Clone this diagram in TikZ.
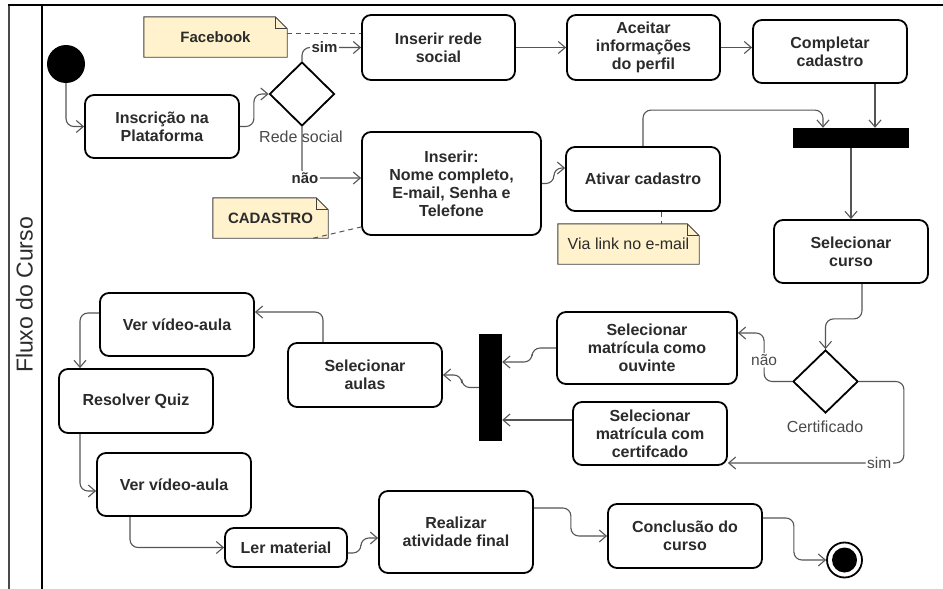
\documentclass[tikz,border=0pt]{standalone}
\usepackage{fontspec}
\setmainfont{Liberation Sans}
\usetikzlibrary{arrows.meta,shapes.geometric,backgrounds}
\definecolor{ink}{HTML}{2B2B2B}
\definecolor{wire}{HTML}{555555}
\definecolor{soft}{HTML}{4A4A4A}
\definecolor{notefill}{HTML}{FFF2CC}
\definecolor{noteline}{HTML}{404040}
\begin{document}
\begin{tikzpicture}[x=1pt,y=-1pt,
  sz/.style 2 args={minimum width=#1pt, minimum height=#2pt},
  act/.style={draw=black, line width=1.8pt, rounded corners=9pt, fill=white,
    inner sep=2pt, align=center, text=ink,
    font=\bfseries\fontsize{16}{18}\selectfont},
  bar/.style={fill=black, draw=none, inner sep=0pt},
  choice/.style={diamond, draw=black, line width=1.8pt, fill=white, inner sep=0pt},
  notetext/.style={inner sep=0pt, text=ink, font=\bfseries\fontsize{15}{18}\selectfont},
  notebody/.style={draw=noteline, fill=notefill, line width=0.9pt},
  flow/.style={draw=wire, line width=1.1pt, rounded corners=8pt,
    -{Straight Barb[length=7pt,width=12pt]}},
  link/.style={draw=wire, line width=1pt, dash pattern=on 5pt off 4pt},
  guard/.style={fill=white, inner sep=1.5pt, text=ink,
    font=\bfseries\fontsize{15}{18}\selectfont},
  guardr/.style={fill=white, inner sep=1.5pt, text=soft,
    font=\fontsize{15.5}{18}\selectfont},
  cond/.style={inner sep=0pt, text=soft, font=\fontsize{16}{18}\selectfont},
]
\useasboundingbox (0,0) rectangle (943,589);

% swimlane frame
\draw[line width=1.6pt, draw=soft] (9,589) -- (9,5);
\draw[line width=1.8pt] (8,5) -- (943,5);
\draw[line width=1.8pt] (42,5) -- (42,589);
\node[rotate=90, inner sep=0pt, text=ink, font=\fontsize{23}{26}\selectfont]
  (lane) at (24.5,295) {Fluxo do Curso};

% start / end
\node[circle, fill=black, minimum size=38pt, inner sep=0pt] (init) at (66,64) {};
\node[circle, draw=black, line width=1.8pt, fill=white, minimum size=35pt, inner sep=0pt]
  (final) at (844.5,560) {};
\node[circle, fill=black, minimum size=25pt, inner sep=0pt] (finalcore) at (final) {};

% activities
\node[act, sz={154}{63}] (insc) at (162,126.5) {Inscrição na\\Plataforma};
\node[act, sz={153}{65}] (insrede) at (438.5,47.5) {Inserir rede\\social};
\node[act, sz={153}{65}] (aceitar) at (643.5,47.5) {Aceitar\\informações\\do perfil};
\node[act, sz={154}{63}] (completar) at (830,51.5) {Completar\\cadastro};
\node[act, sz={179}{103}] (inserir) at (451.5,183.5)
  {Inserir:\\Nome completo,\\E-mail, Senha e\\Telefone};
\node[act, sz={154}{64}] (ativar) at (643,179) {Ativar cadastro};
\node[act, sz={154}{63}] (selcurso) at (851,251.5) {Selecionar\\curso};
\node[act, sz={180}{72}] (ouvinte) at (647,348) {Selecionar\\matrícula como\\ouvinte};
\node[act, sz={154}{63}] (comcert) at (650,433.5) {Selecionar\\matrícula com\\certifcado};
\node[act, sz={154}{64}] (aulas) at (365,375) {Selecionar\\aulas};
\node[act, sz={154}{63}] (ver1) at (177,324.5) {Ver vídeo-aula};
\node[act, sz={154}{64}] (quiz) at (136,401) {Resolver Quiz};
\node[act, sz={154}{63}] (ver2) at (174,484.5) {Ver vídeo-aula};
\node[act, sz={122}{39}] (ler) at (286,547.5) {Ler material};
\node[act, sz={154}{82}] (realizar) at (456,532) {Realizar\\atividade final};
\node[act, sz={154}{64}] (conclusao) at (685,536) {Conclusão do\\curso};

% fork / join bars
\node[bar, sz={116}{20}] (fork) at (851,138) {};
\node[bar, sz={23}{107}] (join) at (490.5,387.5) {};

% decisions
\node[choice, sz={65}{64}] (rede) at (302,94) {};
\node[choice, sz={65}{63}] (cert) at (825.5,381.5) {};

% notes: text on top, folded paper drawn underneath
\node[notetext, sz={143}{40}] (face) at (215.5,37) {Facebook};
\node[notetext, sz={115}{40}] (cad) at (270.5,218) {CADASTRO};
\node[notetext, sz={141}{40}, font=\fontsize{16}{18}\selectfont] (via) at (628.5,244)
  {Via link no e-mail};
\begin{scope}[on background layer]
  \fill[white] (0,0) rectangle (943,589);
  \foreach \n in {face,cad,via}{
    \draw[notebody] (\n.north west) -- ([xshift=-12pt]\n.north east)
      -- ([yshift=-12pt]\n.north east) -- (\n.south east) -- (\n.south west) -- cycle;
    \draw[notebody, fill=none] ([xshift=-12pt]\n.north east) |- ([yshift=-12pt]\n.north east);
  }
\end{scope}

% note links
\draw[link] ([yshift=4pt]face.east) -- ([yshift=14.5pt]insrede.west);
\draw[link] ([xshift=-15pt]cad.south east) -- ([yshift=-43.5pt]inserir.west);
\draw[link] ([xshift=18pt]ativar.south) -- ([xshift=18pt]ativar.south |- via.north);

% control flow
\draw[flow] (init.south) |- (insc.west);
\draw[flow] (insc.east) -- ++(14,0) |- (rede.west);
\draw[flow] (rede.north) |- node[guard, pos=0.69] (simtop) {sim} (insrede.west);
\draw[flow] (rede.south) |- node[guard, pos=0.5, xshift=3pt] (naotop) {não}
  ([yshift=5.5pt]inserir.west);
\node[cond] (redetag) at (301,137) {Rede social};
\draw[flow] (insrede.east) -- (aceitar.west);
\draw[flow] (aceitar.east) -- (aceitar.east -| completar.west);
\draw[flow] ([xshift=45pt]completar.south) -- ([xshift=45pt]completar.south |- fork.north);
\draw[flow] (inserir.east) -- ++(12,0) |- ([yshift=11pt]ativar.west);
\draw[flow] (ativar.north) -- ++(0,-36) -| ([xshift=-28pt]fork.north);
\draw[flow] (fork.south) -- (selcurso.north);
\draw[flow] ([xshift=11pt]selcurso.south) -- ++(0,35) -| (cert.north);
\node[cond] (certtag) at (825,427) {Certificado};
\draw[flow] (cert.west) -- ++(-28,0) |- node[guardr, pos=0.22] (naolow) {não}
  ([yshift=15pt]ouvinte.east);
\draw[flow] (cert.east) -- ++(45,0) |- node[guardr, pos=0.57] (simlow) {sim}
  ([yshift=-29.5pt]comcert.east);
\draw[flow] (ouvinte.west) -- ++(-24,0) |- ([yshift=25.5pt]join.east);
\draw[flow] ([yshift=13.5pt]comcert.west) -- ([yshift=13.5pt]comcert.west -| join.east);
\draw[flow] (join.west) -- ++(-17,0) |- (aulas.east);
\draw[flow] ([xshift=-42pt]aulas.north) |- ([yshift=12.5pt]ver1.east);
\draw[flow] ([yshift=11.5pt]ver1.west) -| ([xshift=-56pt]quiz.north);
\draw[flow] ([xshift=-56pt]quiz.south) |- ([yshift=-6.5pt]ver2.west);
\draw[flow] ([xshift=-44pt]ver2.south) |- (ler.west);
\draw[flow] ([yshift=-5.5pt]ler.east) -- ++(13,0) |- ([yshift=-6pt]realizar.west);
\draw[flow] ([yshift=24pt]realizar.east) -- ++(37,0) |- (conclusao.west);
\draw[flow] ([yshift=18pt]conclusao.east) -- ++(31,0) |- (final.west);
\end{tikzpicture}
\end{document}
